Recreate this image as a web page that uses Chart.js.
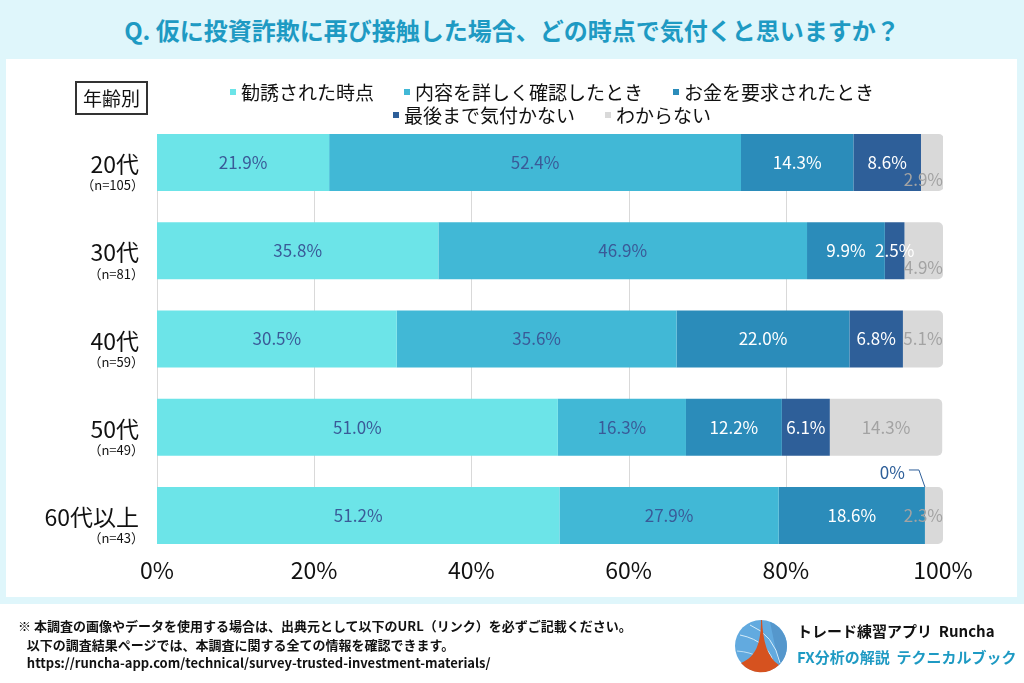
<!DOCTYPE html>
<html lang="ja">
  <head>
    <meta charset="UTF-8" />
    <script src="https://cdn.jsdelivr.net/npm/chart.js"></script>
    <style>
      body {
        margin: 0;
        width: 1024px;
        height: 683px;
        background: #dff6fb;
        font-family: "Noto Sans CJK JP", sans-serif;
        position: relative;
        overflow: hidden;
      }
      .title {
        position: absolute;
        left: 0;
        width: 1024px;
        top: 13px;
        text-align: center;
        font-size: 24px;
        font-weight: bold;
        color: #1e9ac3;
        line-height: 34px;
      }
      .panel {
        position: absolute;
        left: 6px;
        top: 59px;
        width: 1011px;
        height: 538px;
        background: #fff;
      }
      .footer {
        position: absolute;
        left: 0;
        top: 604px;
        width: 1024px;
        height: 79px;
        background: #fff;
      }
      .group-box {
        position: absolute;
        left: 75px;
        top: 81px;
        width: 69px;
        height: 30px;
        border: 2px solid #333;
        font-size: 19px;
        line-height: 30px;
        text-align: center;
        color: #111;
      }
      .legend {
        position: absolute;
        left: 152px;
        width: 800px;
        top: 80px;
        font-size: 19px;
        color: #111;
      }
      .legend .row {
        display: flex;
        justify-content: center;
        gap: 30px;
        height: 23px;
        line-height: 23px;
      }
      .legend .item {
        display: flex;
        align-items: center;
        white-space: nowrap;
      }
      .legend .box {
        width: 6px;
        height: 6px;
        margin-right: 5px;
      }
      #wrap {
        position: absolute;
        left: 0;
        top: 0;
        width: 1024px;
        height: 683px;
      }
      .note {
        position: absolute;
        left: 18px;
        top: 617px;
        font-size: 13px;
        font-weight: bold;
        color: #111;
        line-height: 18.5px;
      }
      .brand {
        position: absolute;
        left: 797px;
        font-size: 15px;
        font-weight: bold;
        white-space: nowrap;
      }
      .logo {
        position: absolute;
        left: 734px;
        top: 619px;
      }
    </style>
    <title>投資詐欺アンケート</title>
  </head>
  <body>
    <div class="title">Q. 仮に投資詐欺に再び接触した場合、どの時点で気付くと思いますか？</div>
    <div class="panel"></div>
    <div class="footer"></div>

    <div id="wrap"><canvas id="chart"></canvas></div>

    <div class="group-box">年齢別</div>
    <div class="legend" id="legend"></div>

    <div class="note">
      ※ 本調査の画像やデータを使用する場合は、出典元として以下のURL（リンク）を必ずご記載ください。<br />
      &nbsp;&nbsp;&nbsp;以下の調査結果ページでは、本調査に関する全ての情報を確認できます。<br />
      &nbsp;&nbsp;&nbsp;https://runcha-app.com/technical/survey-trusted-investment-materials/
    </div>

    <svg class="logo" width="54" height="54" viewBox="0 0 54 54">
      <circle cx="27" cy="27" r="26" fill="#62aadf" />
      <path d="M36 3 A26 26 0 0 1 45 46 L36 3 Z" fill="#5597cc" />
      <path d="M16 6 Q40 16 46 44" stroke="#d5ecf9" stroke-width="1" fill="none" />
      <path d="M6 16 Q36 22 41 49" stroke="#d5ecf9" stroke-width="1" fill="none" />
      <path d="M3 32 Q30 34 34 52" stroke="#d5ecf9" stroke-width="0.8" fill="none" />
      <path d="M27 1 C27 24 22 38 7 44 A26 26 0 0 0 45 46 C33 38 29 22 28 1 Z" fill="#d6521f" />
    </svg>
    <div class="brand" style="top: 620px; color: #111">トレード練習アプリ&nbsp; Runcha</div>
    <div class="brand" style="top: 646px; color: #1e9ac3">FX分析の解説&nbsp; テクニカルブック</div>

    <script>
      // categories and sample sizes
      const ageGroups = ["20代", "30代", "40代", "50代", "60代以上"];
      const sampleSizes = [105, 81, 59, 49, 43];

      const seriesNames = ["勧誘された時点", "内容を詳しく確認したとき", "お金を要求されたとき", "最後まで気付かない", "わからない"];
      const seriesColors = ["#6ce4e8", "#41b8d6", "#2b8cba", "#2e5f99", "#d9d9d9"];
      const labelColors = ["#3a5a98", "#3a5a98", "#ffffff", "#ffffff", "#a3a3a3"];

      // values in %
      const atSolicitation = [21.9, 35.8, 30.5, 51.0, 51.2];
      const whenChecking = [52.4, 46.9, 35.6, 16.3, 27.9];
      const whenMoneyAsked = [14.3, 9.9, 22.0, 12.2, 18.6];
      const neverNotice = [8.6, 2.5, 6.8, 6.1, 0];
      const dontKnow = [2.9, 4.9, 5.1, 14.3, 2.3];

      const xTicks = [0, 20, 40, 60, 80, 100];

      const seriesValues = [atSolicitation, whenChecking, whenMoneyAsked, neverNotice, dontKnow];

      // html legend, 3 + 2 items
      const legendEl = document.getElementById("legend");
      [[0, 1, 2], [3, 4]].forEach((idxs) => {
        const row = document.createElement("div");
        row.className = "row";
        idxs.forEach((i) => {
          const item = document.createElement("div");
          item.className = "item";
          item.innerHTML = '<span class="box" style="background:' + seriesColors[i] + '"></span>' + seriesNames[i];
          row.appendChild(item);
        });
        legendEl.appendChild(row);
      });

      const FONT = "'Noto Sans CJK JP', 'Noto Sans', sans-serif";
      Chart.defaults.font.family = FONT;

      // vertical grid lines only between first bar top and last bar bottom
      const gridPlugin = {
        id: "grid",
        beforeDatasetsDraw(chart) {
          const ctx = chart.ctx;
          const first = chart.getDatasetMeta(0).data[0];
          const last = chart.getDatasetMeta(0).data[ageGroups.length - 1];
          const top = first.y - first.height / 2;
          const bottom = last.y + last.height / 2;
          ctx.save();
          ctx.strokeStyle = "#d9d9d9";
          ctx.lineWidth = 1;
          xTicks.slice(0, -1).forEach((t) => {
            const x = Math.round(chart.scales.x.getPixelForValue(t)) + 0.5;
            ctx.beginPath();
            ctx.moveTo(x, top);
            ctx.lineTo(x, bottom);
            ctx.stroke();
          });
          ctx.restore();
        },
      };

      // category labels with sample size under
      const catLabels = {
        id: "catLabels",
        afterDraw(chart) {
          const ctx = chart.ctx;
          const y = chart.scales.y;
          ctx.save();
          ctx.textAlign = "right";
          ctx.textBaseline = "middle";
          ctx.fillStyle = "#111";
          ageGroups.forEach((g, i) => {
            const py = y.getPixelForValue(i);
            ctx.font = "23px " + FONT;
            ctx.fillText(g, 139, py + 2);
            ctx.font = "13px " + FONT;
            ctx.fillText("（n=" + sampleSizes[i] + "）", 144, py + 23);
          });
          ctx.restore();
        },
      };

      // value labels inside segments
      const valueLabels = {
        id: "valueLabels",
        afterDatasetsDraw(chart) {
          const ctx = chart.ctx;
          ctx.save();
          ctx.font = "17px " + FONT;
          ctx.textBaseline = "middle";
          ctx.textAlign = "center";
          ageGroups.forEach((g, j) => {
            let prevRight = -Infinity;
            seriesValues.forEach((vals, i) => {
              const el = chart.getDatasetMeta(i).data[j];
              const v = vals[j];
              if (v === 0) {
                // zero: label above bar with leader line
                const top = el.y - el.height / 2;
                ctx.fillStyle = seriesColors[i];
                ctx.textAlign = "right";
                ctx.fillText("0%", el.x - 20, top - 14);
                ctx.textAlign = "center";
                ctx.strokeStyle = seriesColors[i];
                ctx.lineWidth = 1;
                ctx.beginPath();
                ctx.moveTo(el.x - 16, top - 17);
                ctx.lineTo(el.x - 6, top - 17);
                ctx.lineTo(el.x, top);
                ctx.stroke();
                return;
              }
              const txt = v.toFixed(1) + "%";
              const w = ctx.measureText(txt).width;
              let cx = (el.x + el.base) / 2;
              let cy = el.y;
              if (i === seriesValues.length - 1 && w > el.x - el.base) {
                cx = chart.chartArea.right - w / 2;
                if (prevRight > cx - w / 2 - 3) cy += 17;
              }
              ctx.fillStyle = labelColors[i];
              ctx.fillText(txt, cx, cy);
              prevRight = cx + w / 2;
            });
          });
          ctx.restore();
        },
      };

      const datasets = seriesValues.map((vals, i) => ({
        label: seriesNames[i],
        data: vals,
        backgroundColor: seriesColors[i],
        borderWidth: 0,
        barPercentage: 0.646,
        categoryPercentage: 1,
        borderRadius: i === seriesValues.length - 1 ? { topLeft: 0, bottomLeft: 0, topRight: 5, bottomRight: 5 } : 0,
        borderSkipped: false,
      }));

      new Chart(document.getElementById("chart"), {
        type: "bar",
        data: { labels: ageGroups, datasets: datasets },
        options: {
          indexAxis: "y",
          responsive: true,
          maintainAspectRatio: false,
          animation: false,
          layout: { padding: { top: 118.4, right: 81, bottom: 0, left: 0 } },
          plugins: { legend: { display: false }, tooltip: { enabled: false } },
          scales: {
            x: {
              stacked: true,
              min: 0,
              max: 100,
              afterBuildTicks: (s) => {
                s.ticks = xTicks.map((v) => ({ value: v }));
              },
              ticks: {
                color: "#111",
                font: { size: 23 },
                padding: -3,
                callback: (v) => v + "%",
              },
              grid: { display: false, drawTicks: false },
              border: { display: false },
              afterFit: (s) => {
                s.height = 123.4;
              },
            },
            y: {
              stacked: true,
              ticks: { display: false },
              grid: { display: false },
              border: { display: false },
              afterFit: (s) => {
                s.width = 157;
              },
            },
          },
        },
        plugins: [gridPlugin, catLabels, valueLabels],
      });
    </script>
  </body>
</html>
